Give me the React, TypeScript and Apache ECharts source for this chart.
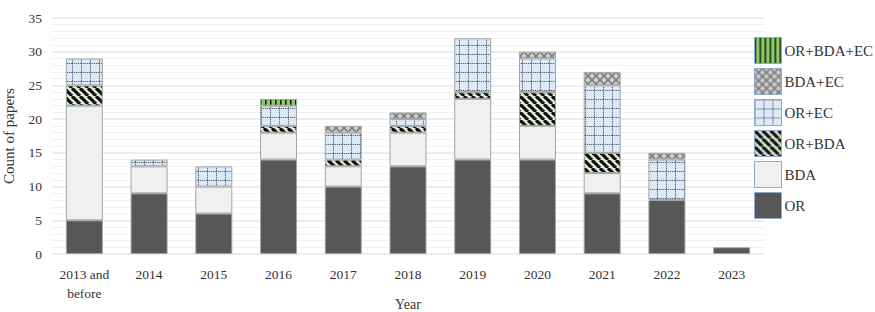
import React, { useEffect, useRef } from "react";
import * as echarts from "echarts";

const categories = ["2013 and\nbefore", "2014", "2015", "2016", "2017", "2018", "2019", "2020", "2021", "2022", "2023"];
const seriesNames = ["OR", "BDA", "OR+BDA", "OR+EC", "BDA+EC", "OR+BDA+EC"];
const orValues = [5, 9, 6, 14, 10, 13, 14, 14, 9, 8, 1];
const bdaValues = [17, 4, 4, 4, 3, 5, 9, 5, 3, 0, 0];
const orBdaValues = [3, 0, 0, 1, 1, 1, 1, 5, 3, 0, 0];
const orEcValues = [4, 1, 3, 3, 4, 1, 8, 5, 10, 6, 0];
const bdaEcValues = [0, 0, 0, 0, 1, 1, 0, 1, 2, 1, 0];
const orBdaEcValues = [0, 0, 0, 1, 0, 0, 0, 0, 0, 0, 0];
const yTicks = [0, 5, 10, 15, 20, 25, 30, 35];

const FONT = "Liberation Serif";

function makeTile(w: number, h: number, draw: (ctx: CanvasRenderingContext2D) => void) {
  const c = document.createElement("canvas");
  c.width = w;
  c.height = h;
  const ctx = c.getContext("2d")!;
  draw(ctx);
  return { image: c, repeat: "repeat", imageWidth: w, imageHeight: h } as any;
}

function patterns() {
  const diag = makeTile(8, 8, (ctx) => {
    ctx.fillStyle = "#dcedcf";
    ctx.fillRect(0, 0, 8, 8);
    ctx.strokeStyle = "#111";
    ctx.lineWidth = 3.2;
    for (const x of [-8, 0, 8]) {
      ctx.beginPath();
      ctx.moveTo(x, 0);
      ctx.lineTo(x + 8, 8);
      ctx.stroke();
    }
  });
  const grid = makeTile(9, 9, (ctx) => {
    ctx.fillStyle = "#dce9f7";
    ctx.fillRect(0, 0, 9, 9);
    ctx.fillStyle = "#5f6a78";
    for (let i = 0; i < 9; i += 2) {
      ctx.fillRect(i, 0, 1, 1);
      ctx.fillRect(0, i, 1, 1);
    }
    ctx.fillStyle = "#b4c1d0";
    for (let i = 1; i < 9; i += 2) {
      ctx.fillRect(i, 0, 1, 1);
      ctx.fillRect(0, i, 1, 1);
    }
  });
  const cross = makeTile(8, 8, (ctx) => {
    ctx.fillStyle = "#cbcbcb";
    ctx.fillRect(0, 0, 8, 8);
    ctx.strokeStyle = "#767676";
    ctx.lineWidth = 1.4;
    for (const x of [-8, 0, 8]) {
      ctx.beginPath();
      ctx.moveTo(x, 0);
      ctx.lineTo(x + 8, 8);
      ctx.stroke();
      ctx.beginPath();
      ctx.moveTo(x + 8, 0);
      ctx.lineTo(x, 8);
      ctx.stroke();
    }
  });
  const vert = makeTile(5, 5, (ctx) => {
    ctx.fillStyle = "#8cc96a";
    ctx.fillRect(0, 0, 5, 5);
    ctx.fillStyle = "#1a2a12";
    ctx.fillRect(0, 0, 1.6, 5);
  });
  return { diag, grid, cross, vert };
}

export default function App() {
  const ref = useRef<HTMLDivElement>(null);
  useEffect(() => {
    if (!ref.current) return;
    const chart = echarts.init(ref.current, undefined, { renderer: "svg" });
    const p = patterns();
    const fills: any[] = ["#575757", "#f0f0f0", p.diag, p.grid, p.cross, p.vert];
    const values = [orValues, bdaValues, orBdaValues, orEcValues, bdaEcValues, orBdaEcValues];
    const series = seriesNames.map((name, i) => ({
      name,
      type: "bar",
      stack: "total",
      barWidth: 37,
      data: values[i].map((v) => (v === 0 ? null : v)),
      itemStyle: { color: fills[i], borderColor: "#a3a3a3", borderWidth: 1 },
    }));
    chart.setOption({
      animation: false,
      textStyle: { fontFamily: FONT },
      grid: { left: 52, right: 111, top: 18, bottom: 58, outerBoundsMode: "none", containLabel: false },
      legend: {
        orient: "vertical",
        left: 749,
        top: 32,
        itemWidth: 27,
        itemHeight: 26,
        itemGap: 4,
        icon: "rect",
        data: [...seriesNames].reverse(),
        textStyle: { fontFamily: FONT, fontSize: 15, color: "#333", padding: [0, 0, 0, -2] },
        itemStyle: { borderColor: "#8ea9cf", borderWidth: 1 },
      },
      xAxis: {
        type: "category",
        data: categories,
        name: "Year",
        nameLocation: "middle",
        nameGap: 43,
        nameMoveOverlap: false,
        nameTextStyle: { fontFamily: FONT, fontSize: 14, color: "#333" },
        axisLine: { show: false },
        axisTick: { show: false },
        axisLabel: { fontFamily: FONT, fontSize: 13.5, color: "#333", margin: 11, lineHeight: 19, interval: 0 },
      },
      yAxis: {
        type: "value",
        min: 0,
        max: 35,
        interval: 5,
        name: "Count of papers",
        nameLocation: "middle",
        nameGap: 36,
        nameTextStyle: { fontFamily: FONT, fontSize: 15, color: "#333" },
        axisLine: { show: false },
        axisTick: { show: false },
        axisLabel: {
          fontFamily: FONT,
          fontSize: 13.5,
          color: "#333",
          margin: 10,
          formatter: (v: number) => (yTicks.includes(v) ? String(v) : ""),
        },
        splitLine: { lineStyle: { color: "#e6e6e6", width: 1.5 } },
        minorTick: { show: false, splitNumber: 5 },
        minorSplitLine: { show: true, lineStyle: { color: "#f1f1f1", width: 1 } },
      },
      series,
    });
    return () => chart.dispose();
  }, []);
  return <div ref={ref} style={{ width: 875, height: 312, position: "absolute", left: 0, top: 0 }} />;
}
